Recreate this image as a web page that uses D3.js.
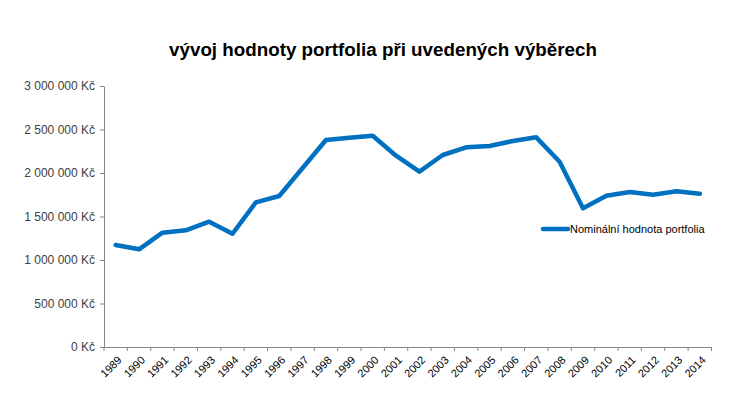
<!DOCTYPE html>
<html>
<head>
<meta charset="utf-8">
<script src="https://cdn.jsdelivr.net/npm/d3@7"></script>
<style>
  body { margin: 0; background: #fff; }
  svg { display: block; font-family: "Liberation Sans", "DejaVu Sans", sans-serif; }
</style>
</head>
<body>
<svg id="chart" width="756" height="397"></svg>
<script>
// years on the category axis
var years = ['1989','1990','1991','1992','1993','1994','1995','1996','1997','1998','1999','2000','2001',
	'2002','2003','2004','2005','2006','2007','2008','2009','2010','2011','2012','2013','2014'];

// nominal value of the portfolio (Kč)
var values = [1172000, 1123000, 1314000, 1341000, 1440000, 1302000, 1663000, 1736000, 2057000, 2379000,
	2406000, 2429000, 2199000, 2015000, 2207000, 2295000, 2310000, 2368000, 2410000, 2130000,
	1594000, 1739000, 1782000, 1751000, 1790000, 1762000];

var yTicks = [0, 500000, 1000000, 1500000, 2000000, 2500000, 3000000];

var seriesName = 'Nominální hodnota portfolia';
var title = 'vývoj hodnoty portfolia při uvedených výběrech';

var svg = d3.select('#chart');
// plot area edges (note: "top" is taken by window.top)
var plot = { left: 104, right: 711.5, top: 86, bottom: 347 };

var x = d3.scaleBand().domain(years).range([plot.left, plot.right]);
var y = d3.scaleLinear().domain([0, 3000000]).range([plot.bottom, plot.top]);

// number format: "2 500 000 Kč"
var fmt = function(v) { return d3.format(',')(v).replace(/,/g, ' ') + ' Kč'; };

// title
svg.append('text')
	.attr('x', 383)
	.attr('y', 56)
	.attr('text-anchor', 'middle')
	.style('font-size', '18.8px')
	.style('font-weight', 'bold')
	.style('fill', '#000')
	.text(title);

// y axis
var yAxis = svg.append('g')
	.attr('transform', 'translate(' + plot.left + ',0)')
	.call(d3.axisLeft(y).tickValues(yTicks).tickSize(4).tickSizeOuter(0).tickPadding(5).tickFormat(fmt));
yAxis.select('.domain').attr('stroke', '#868686');
yAxis.selectAll('.tick line').attr('stroke', '#868686');
yAxis.selectAll('.tick text').style('font-size', '12px').style('fill', '#404040');

// x axis with ticks on category boundaries
var xAxis = svg.append('g')
	.attr('transform', 'translate(0,' + plot.bottom + ')')
	.call(d3.axisBottom(x).tickSize(0).tickSizeOuter(0));
xAxis.select('.domain').attr('stroke', '#868686');
xAxis.selectAll('.tick text')
	.style('font-size', '11px')
	.style('fill', '#000')
	.attr('text-anchor', 'end')
	.attr('transform', 'translate(4,11) rotate(-45)')
	.attr('dy', '0.35em')
	.attr('y', 0)
	.attr('x', 0);

xAxis.selectAll('.boundary')
	.data(years.concat(['end']))
	.enter().append('line')
	.attr('class', 'boundary')
	.attr('x1', function(d, i) { return plot.left + i * x.step(); })
	.attr('x2', function(d, i) { return plot.left + i * x.step(); })
	.attr('y1', 0)
	.attr('y2', 4)
	.attr('stroke', '#868686');

// series line
var line = d3.line()
	.x(function(d, i) { return x(years[i]) + x.bandwidth() / 2; })
	.y(function(d) { return y(d); });

svg.append('path')
	.datum(values)
	.attr('d', line)
	.attr('fill', 'none')
	.attr('stroke', '#0070C0')
	.attr('stroke-width', 4.5)
	.attr('stroke-linejoin', 'round')
	.attr('stroke-linecap', 'round');

// legend
var legend = svg.append('g').attr('transform', 'translate(543,229)');
legend.append('line')
	.attr('x1', 0).attr('x2', 25)
	.attr('stroke', '#0070C0')
	.attr('stroke-width', 4.5)
	.attr('stroke-linecap', 'round');
legend.append('text')
	.attr('x', 27)
	.attr('dy', '0.35em')
	.style('font-size', '11px')
	.style('fill', '#000')
	.text(seriesName);
</script>
</body>
</html>
